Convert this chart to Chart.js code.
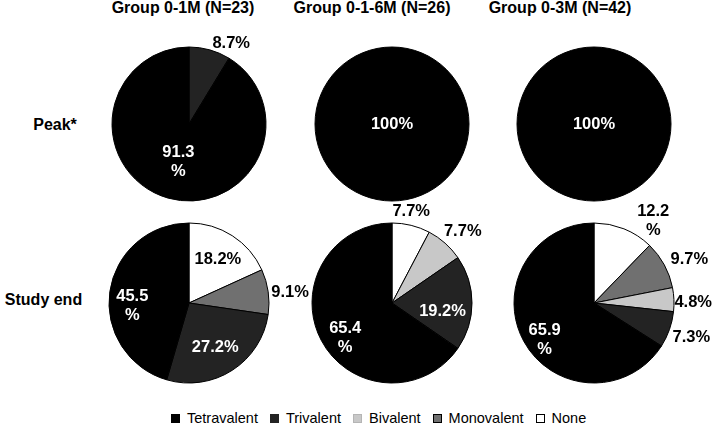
<!DOCTYPE html>
<html>
<head>
<meta charset="utf-8">
<script src="https://cdn.jsdelivr.net/npm/chart.js@4.4.1/dist/chart.umd.min.js"></script>
<style>
    body { margin: 0; width: 715px; height: 424px; overflow: hidden; background: #fff;
           font-family: 'Liberation Sans', Arial, sans-serif; position: relative; color: #000; }
    .title { position: absolute; top: -1px; font-weight: bold; font-size: 16px; line-height: 18px;
             transform: translateX(-50%); white-space: nowrap; }
    .rowlabel { position: absolute; font-weight: bold; font-size: 16px; line-height: 18px;
                transform: translate(-50%, -50%); white-space: nowrap; }
    .pie { position: absolute; width: 240px; height: 240px; }
    #legend { position: absolute; left: 171px; top: 410px; display: flex; align-items: center;
              font-size: 14.5px; line-height: 16px; white-space: nowrap; }
    #legend .item { display: flex; align-items: center; margin-right: 12px; }
    #legend .box { width: 7px; height: 7px; border: 1px solid #000; margin-right: 7px; }
</style>
</head>
<body>
<div id="legend"></div>
<script>
// Data
const categories = ['Tetravalent', 'Trivalent', 'Bivalent', 'Monovalent', 'None'];
const groups = ['Group 0-1M (N=23)', 'Group 0-1-6M (N=26)', 'Group 0-3M (N=42)'];
const timepoints = ['Peak*', 'Study end'];

// % of subjects, in category order
const peak_0_1M = [91.3, 8.7, 0, 0, 0];
const peak_0_1_6M = [100, 0, 0, 0, 0];
const peak_0_3M = [100, 0, 0, 0, 0];
const end_0_1M = [45.5, 27.2, 0, 9.1, 18.2];
const end_0_1_6M = [65.4, 19.2, 7.7, 0, 7.7];
const end_0_3M = [65.9, 7.3, 4.8, 9.7, 12.2];

const panels = [
    [peak_0_1M, peak_0_1_6M, peak_0_3M],
    [end_0_1M, end_0_1_6M, end_0_3M]
];

// Styles / layout
const fills = { Tetravalent: '#000000', Trivalent: '#232323', Bivalent: '#c8c8c8', Monovalent: '#707070', None: '#ffffff' };
const legendBorder = { Tetravalent: '#000', Trivalent: '#232323', Bivalent: '#b5b5b5', Monovalent: '#000', None: '#000' };
const darkFills = ['Tetravalent', 'Trivalent', 'Monovalent'];
const drawOrder = ['None', 'Monovalent', 'Bivalent', 'Trivalent', 'Tetravalent']; // clockwise from 12 o'clock
const colX = [189, 392, 594];
const rowY = [124, 303];
const rowRadius = [77, 80];
const titleX = [183, 372, 560];
const rowLabelPos = [[55, 125], [43.5, 300]];

// label placement: [radius factor, angle shift in degrees, wrap "%" to new line]
const labelPlace = [
    [
        { Tetravalent: [0.51, 0, true], Trivalent: [1.18, 12, false] },
        { Tetravalent: [0, 0, false] },
        { Tetravalent: [0, 0, false] }
    ],
    [
        { None: [0.65, 1, false], Monovalent: [1.27, 2, false], Trivalent: [0.64, 2, false], Tetravalent: [0.71, -11, true] },
        { None: [1.17, -2, false], Bivalent: [1.26, 3, false], Trivalent: [0.64, 9, false], Tetravalent: [0.73, -9, true] },
        { None: [1.26, 14, true], Monovalent: [1.31, 4, false], Bivalent: [1.24, 2, false], Trivalent: [1.29, 0, false], Tetravalent: [0.77, -8, true] }
    ]
];

const pctLabels = {
    id: 'pctLabels',
    afterDatasetsDraw(chart, args, opts) {
        const ctx = chart.ctx;
        const meta = chart.getDatasetMeta(0);
        const values = chart.data.datasets[0].data;
        ctx.save();
        ctx.font = "bold 16.5px 'Liberation Sans', Arial, sans-serif";
        ctx.textAlign = 'center';
        ctx.textBaseline = 'middle';
        meta.data.forEach((arc, i) => {
            const cat = chart.data.labels[i];
            const place = opts.place[cat];
            if (!place || !values[i]) return;
            const p = arc.getProps(['x', 'y', 'startAngle', 'endAngle', 'outerRadius'], true);
            const mid = (p.startAngle + p.endAngle) / 2 + place[1] * Math.PI / 180;
            const d = place[0] * p.outerRadius;
            const x = p.x + Math.cos(mid) * d;
            const y = p.y + Math.sin(mid) * d;
            const num = values[i] === 100 ? '100' : values[i].toFixed(1);
            const lines = place[2] ? [num, '%'] : [num + '%'];
            ctx.fillStyle = (place[0] < 1 && darkFills.includes(cat)) ? '#fff' : '#000';
            lines.forEach((t, k) => {
                ctx.fillText(t, x, y + (k - (lines.length - 1) / 2) * 19);
            });
        });
        ctx.restore();
    }
};

// Titles and row labels
groups.forEach((g, c) => {
    const el = document.createElement('div');
    el.className = 'title';
    el.style.left = titleX[c] + 'px';
    el.textContent = g;
    document.body.appendChild(el);
});
timepoints.forEach((t, r) => {
    const el = document.createElement('div');
    el.className = 'rowlabel';
    el.style.left = rowLabelPos[r][0] + 'px';
    el.style.top = rowLabelPos[r][1] + 'px';
    el.textContent = t;
    document.body.appendChild(el);
});

// Pies
panels.forEach((row, r) => {
    row.forEach((vals, c) => {
        const div = document.createElement('div');
        div.className = 'pie';
        div.style.left = (colX[c] - 120) + 'px';
        div.style.top = (rowY[r] - 120) + 'px';
        const canvas = document.createElement('canvas');
        canvas.width = 240;
        canvas.height = 240;
        div.appendChild(canvas);
        document.body.appendChild(div);

        new Chart(canvas, {
            type: 'pie',
            data: {
                labels: drawOrder,
                datasets: [{
                    data: drawOrder.map(cat => vals[categories.indexOf(cat)]),
                    backgroundColor: drawOrder.map(cat => fills[cat]),
                    borderColor: '#000',
                    borderWidth: 1
                }]
            },
            options: {
                responsive: false,
                animation: false,
                radius: rowRadius[r],
                layout: { padding: 0 },
                plugins: {
                    legend: { display: false },
                    tooltip: { enabled: false },
                    pctLabels: { place: labelPlace[r][c] }
                }
            },
            plugins: [pctLabels]
        });
    });
});

// Legend
const legend = document.getElementById('legend');
categories.forEach(cat => {
    const item = document.createElement('div');
    item.className = 'item';
    const box = document.createElement('span');
    box.className = 'box';
    box.style.background = fills[cat];
    box.style.borderColor = legendBorder[cat];
    const label = document.createElement('span');
    label.textContent = cat;
    item.appendChild(box);
    item.appendChild(label);
    legend.appendChild(item);
});
</script>
</body>
</html>
